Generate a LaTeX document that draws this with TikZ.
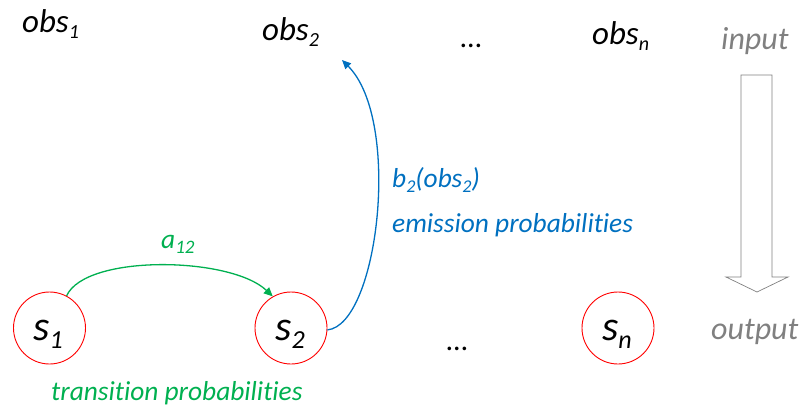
\documentclass[tikz,border=0pt]{standalone}
\usepackage{fontspec}
\setmainfont[Ligatures={NoCommon,NoContextual}]{Carlito}
\usetikzlibrary{arrows.meta}
\definecolor{transgreen}{RGB}{0,176,80}
\definecolor{emitblue}{RGB}{0,112,192}
\definecolor{flowgray}{RGB}{128,128,128}
\definecolor{statered}{RGB}{255,0,0}
% lowered index set at a given size
\newcommand{\idx}[2]{\raisebox{-0.2em}{\fontsize{#1}{#1}\selectfont #2}}

\begin{document}
\begin{tikzpicture}[x=1pt,y=-1pt,
  txt/.style={inner sep=0pt, anchor=base west, font=\itshape\fontsize{33}{33}\selectfont},
  io/.style={inner sep=0pt, anchor=base west, text=flowgray, font=\itshape\fontsize{32}{32}\selectfont},
  stxt/.style={inner sep=0pt, anchor=base, font=\itshape\fontsize{42}{42}\selectfont},
  note/.style={inner sep=0pt, anchor=base west, font=\itshape\fontsize{27.4}{27.4}\selectfont},
  state/.style={circle, draw=statered, line width=0.9pt, minimum size=72pt, inner sep=0pt},
  dots/.style={inner sep=0pt, anchor=base, font=\fontsize{30}{30}\selectfont},
  arc/.style={line width=1.3pt, -{Triangle[length=9pt,width=8pt]}}]
\useasboundingbox (0,0) rectangle (807,408);

% observations
\node[txt] (obs1) at (22,32) {obs\idx{20}{1}};
\node[txt] (obs2) at (262,40) {obs\idx{20}{2}};
\node[dots] (topdots) at (471,47) {…};
\node[txt] (obsn) at (592,44) {obs\idx{20}{n}};

% hidden states
\node[state] (s1) at (49.5,328) {};
\node[state] (s2) at (291,328) {};
\node[state] (sn) at (618,328) {};
\node[stxt] (s1t) at (48,340) {s\idx{26}{1}};
\node[stxt] (s2t) at (290,340) {s\idx{26}{2}};
\node[stxt] (snt) at (617,340) {s\idx{26}{n}};
\node[dots] (botdots) at (457,350) {…};

% input / output flow
\node[io] (in) at (721,49) {input};
\node[io] (out) at (711,339) {output};
\draw[flowgray, line width=0.7pt, line join=miter]
  (741,75) -- (772,75) -- (772,277) -- (788,277) -- (757,292)
  -- (726,277) -- (741,277) -- cycle;

% transition
\draw[arc, transgreen] (s1.62) .. controls +(19,-42) and +(-42,-40) .. (s2.120);
\node[note, text=transgreen] (a12) at (161,248) {a\idx{19}{12}};
\node[note, text=transgreen] (trans) at (51,400) {transition probabilities};

% emission
\coordinate (emitend) at (342,60);
\draw[arc, emitblue] (s2.-3) .. controls +(51,-5) and +(60,60) .. (emitend);
\node[note, text=emitblue] (b2) at (392,187) {b\idx{18}{2}(obs\idx{18}{2})};
\node[note, text=emitblue] (emit) at (392,232) {emission probabilities};
\end{tikzpicture}
\end{document}
